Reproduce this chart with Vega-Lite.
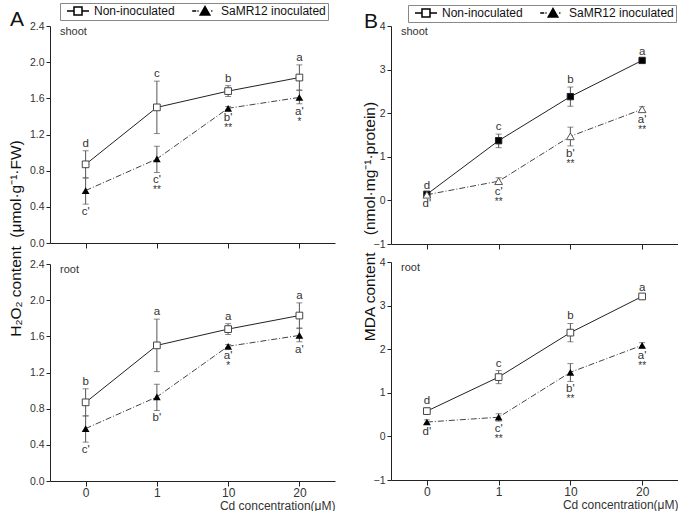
{
  "$schema": "https://vega.github.io/schema/vega-lite/v6.json",
  "padding": {"left": 8, "top": 2, "right": 0, "bottom": 0},
  "datasets": {
    "pts": [
      {"panel": "A_shoot", "cd": "0", "group": "Non-inoculated", "mean": 0.87, "lo": 0.72, "hi": 1.02, "letter": "d", "star": ""},
      {"panel": "A_shoot", "cd": "1", "group": "Non-inoculated", "mean": 1.5, "lo": 1.21, "hi": 1.79, "letter": "c", "star": ""},
      {"panel": "A_shoot", "cd": "10", "group": "Non-inoculated", "mean": 1.68, "lo": 1.62, "hi": 1.74, "letter": "b", "star": ""},
      {"panel": "A_shoot", "cd": "20", "group": "Non-inoculated", "mean": 1.83, "lo": 1.69, "hi": 1.97, "letter": "a", "star": ""},
      {"panel": "A_shoot", "cd": "0", "group": "SaMR12 inoculated", "mean": 0.58, "lo": 0.43, "hi": 0.72, "letter": "c'", "star": ""},
      {"panel": "A_shoot", "cd": "1", "group": "SaMR12 inoculated", "mean": 0.93, "lo": 0.78, "hi": 1.07, "letter": "c'", "star": "**"},
      {"panel": "A_shoot", "cd": "10", "group": "SaMR12 inoculated", "mean": 1.49, "lo": 1.47, "hi": 1.51, "letter": "b'", "star": "**"},
      {"panel": "A_shoot", "cd": "20", "group": "SaMR12 inoculated", "mean": 1.61, "lo": 1.54, "hi": 1.69, "letter": "a'", "star": "*"},
      {"panel": "A_root", "cd": "0", "group": "Non-inoculated", "mean": 0.87, "lo": 0.72, "hi": 1.02, "letter": "b", "star": ""},
      {"panel": "A_root", "cd": "1", "group": "Non-inoculated", "mean": 1.5, "lo": 1.21, "hi": 1.79, "letter": "a", "star": ""},
      {"panel": "A_root", "cd": "10", "group": "Non-inoculated", "mean": 1.68, "lo": 1.62, "hi": 1.74, "letter": "a", "star": ""},
      {"panel": "A_root", "cd": "20", "group": "Non-inoculated", "mean": 1.83, "lo": 1.69, "hi": 1.97, "letter": "a", "star": ""},
      {"panel": "A_root", "cd": "0", "group": "SaMR12 inoculated", "mean": 0.58, "lo": 0.43, "hi": 0.72, "letter": "c'", "star": ""},
      {"panel": "A_root", "cd": "1", "group": "SaMR12 inoculated", "mean": 0.93, "lo": 0.78, "hi": 1.07, "letter": "b'", "star": ""},
      {"panel": "A_root", "cd": "10", "group": "SaMR12 inoculated", "mean": 1.49, "lo": 1.47, "hi": 1.51, "letter": "a'", "star": "*"},
      {"panel": "A_root", "cd": "20", "group": "SaMR12 inoculated", "mean": 1.61, "lo": 1.54, "hi": 1.69, "letter": "a'", "star": ""},
      {"panel": "B_shoot", "cd": "0", "group": "Non-inoculated", "mean": 0.14, "lo": 0.11, "hi": 0.17, "letter": "d", "star": ""},
      {"panel": "B_shoot", "cd": "1", "group": "Non-inoculated", "mean": 1.37, "lo": 1.21, "hi": 1.52, "letter": "c", "star": ""},
      {"panel": "B_shoot", "cd": "10", "group": "Non-inoculated", "mean": 2.38, "lo": 2.16, "hi": 2.6, "letter": "b", "star": ""},
      {"panel": "B_shoot", "cd": "20", "group": "Non-inoculated", "mean": 3.21, "lo": 3.17, "hi": 3.25, "letter": "a", "star": ""},
      {"panel": "B_shoot", "cd": "0", "group": "SaMR12 inoculated", "mean": 0.13, "lo": 0.1, "hi": 0.16, "letter": "d'", "star": ""},
      {"panel": "B_shoot", "cd": "1", "group": "SaMR12 inoculated", "mean": 0.44, "lo": 0.37, "hi": 0.52, "letter": "c'", "star": "**"},
      {"panel": "B_shoot", "cd": "10", "group": "SaMR12 inoculated", "mean": 1.47, "lo": 1.25, "hi": 1.68, "letter": "b'", "star": "**"},
      {"panel": "B_shoot", "cd": "20", "group": "SaMR12 inoculated", "mean": 2.09, "lo": 2.03, "hi": 2.15, "letter": "a'", "star": "**"},
      {"panel": "B_root", "cd": "0", "group": "Non-inoculated", "mean": 0.58, "lo": 0.51, "hi": 0.65, "letter": "d", "star": ""},
      {"panel": "B_root", "cd": "1", "group": "Non-inoculated", "mean": 1.36, "lo": 1.21, "hi": 1.51, "letter": "c", "star": ""},
      {"panel": "B_root", "cd": "10", "group": "Non-inoculated", "mean": 2.38, "lo": 2.17, "hi": 2.59, "letter": "b", "star": ""},
      {"panel": "B_root", "cd": "20", "group": "Non-inoculated", "mean": 3.21, "lo": 3.17, "hi": 3.25, "letter": "a", "star": ""},
      {"panel": "B_root", "cd": "0", "group": "SaMR12 inoculated", "mean": 0.33, "lo": 0.28, "hi": 0.38, "letter": "d'", "star": ""},
      {"panel": "B_root", "cd": "1", "group": "SaMR12 inoculated", "mean": 0.44, "lo": 0.35, "hi": 0.52, "letter": "c'", "star": "**"},
      {"panel": "B_root", "cd": "10", "group": "SaMR12 inoculated", "mean": 1.47, "lo": 1.26, "hi": 1.67, "letter": "b'", "star": "**"},
      {"panel": "B_root", "cd": "20", "group": "SaMR12 inoculated", "mean": 2.09, "lo": 2.03, "hi": 2.15, "letter": "a'", "star": "**"}
    ]
  },
  "data": {"name": "pts"},
  "hconcat": [
    {
      "title": {"text": "A", "anchor": "start", "frame": "bounds", "fontSize": 21, "fontWeight": "normal", "font": "Liberation Sans", "color": "#111", "offset": -27, "dx": 2},
      "bounds": "flush",
      "spacing": 21,
      "vconcat": [
        {
          "width": 285, "height": 217,
          "title": {"text": "shoot", "anchor": "start", "frame": "group", "fontSize": 11, "fontWeight": "normal", "color": "#333", "offset": -16, "dx": 10},
          "transform": [{"filter": "datum.panel === 'A_shoot'"}],
          "encoding": {"x": {"field": "cd", "type": "ordinal", "sort": ["0", "1", "10", "20"], "scale": {"type": "point", "padding": 0.5}, "axis": {"labels": false, "title": null, "tickSize": 5}}},
          "layer": [
            {"mark": {"type": "rule", "color": "#555", "strokeWidth": 1}, "encoding": {"y": {"field": "lo", "type": "quantitative", "scale": {"domain": [0, 2.4], "nice": false, "zero": false}, "axis": {"values": [0, 0.4, 0.8, 1.2, 1.6, 2.0, 2.4], "tickCount": 12, "format": ".1f", "labelOverlap": false, "title": "H₂O₂ content\u00a0\u00a0(μmol·g⁻¹·FW)", "titleFontSize": 15.5, "titleX": -30, "titleY": 212, "titleBaseline": "alphabetic", "titleAlign": "center"}}, "y2": {"field": "hi"}}},
            {"mark": {"type": "tick", "color": "#555", "size": 6, "thickness": 1}, "encoding": {"y": {"field": "lo", "type": "quantitative"}}},
            {"mark": {"type": "tick", "color": "#555", "size": 6, "thickness": 1}, "encoding": {"y": {"field": "hi", "type": "quantitative"}}},
            {"transform": [{"filter": "datum.group === 'Non-inoculated'"}], "mark": {"type": "line", "color": "#222", "strokeWidth": 1}, "encoding": {"y": {"field": "mean", "type": "quantitative"}}},
            {"transform": [{"filter": "datum.group === 'SaMR12 inoculated'"}], "mark": {"type": "line", "color": "#444", "strokeWidth": 1, "strokeDash": [6, 2, 1, 2]}, "encoding": {"y": {"field": "mean", "type": "quantitative"}}},
            {"transform": [{"filter": "datum.group === 'Non-inoculated'"}], "mark": {"type": "point", "shape": "square", "filled": true, "fill": "white", "stroke": "#444", "strokeWidth": 1, "size": 45, "opacity": 1}, "encoding": {"y": {"field": "mean", "type": "quantitative"}}},
            {"transform": [{"filter": "datum.group === 'SaMR12 inoculated'"}], "mark": {"type": "point", "shape": "triangle-up", "filled": true, "fill": "black", "size": 60, "opacity": 1}, "encoding": {"y": {"field": "mean", "type": "quantitative"}}},
            {"transform": [{"filter": "datum.group === 'Non-inoculated'"}], "mark": {"type": "text", "dy": -7, "fontSize": 11.5, "color": "#333", "baseline": "middle"}, "encoding": {"y": {"field": "hi", "type": "quantitative"}, "text": {"field": "letter"}}},
            {"transform": [{"filter": "datum.group === 'SaMR12 inoculated'"}], "mark": {"type": "text", "dy": 8, "fontSize": 11.5, "color": "#333", "baseline": "middle"}, "encoding": {"y": {"field": "lo", "type": "quantitative"}, "text": {"field": "letter"}}},
            {"transform": [{"filter": "datum.group === 'SaMR12 inoculated'"}], "mark": {"type": "text", "dy": 18, "fontSize": 10, "color": "#333", "baseline": "middle"}, "encoding": {"y": {"field": "lo", "type": "quantitative"}, "text": {"field": "star"}}},
            {"transform": [{"filter": "false"}], "mark": {"type": "point", "filled": true, "stroke": "black", "strokeWidth": 1, "opacity": 1},
             "encoding": {"y": {"field": "mean", "type": "quantitative"},
               "shape": {"field": "group", "type": "nominal", "scale": {"domain": ["Non-inoculated", "SaMR12 inoculated"], "range": ["M-2.75,0L-1,0M1,0L2.75,0M-1,-1L1,-1L1,1L-1,1Z", "M-3.2,0L-2.2,0M-1.9,0L-1.6,0M0,-1.1L1.2,1L-1.2,1ZM1.55,0L1.85,0"]},
                 "legend": {"orient": "none", "legendX": 10, "legendY": -23, "direction": "horizontal", "title": null, "strokeColor": "#888", "padding": 2, "labelFontSize": 12, "labelFont": "Liberation Sans", "labelColor": "#111", "symbolSize": 64, "symbolOffset": 10, "labelOffset": 10, "columnPadding": 14, "cornerRadius": 0, "encode": {"symbols": {"update": {"stroke": {"value": "black"}, "strokeWidth": {"value": 1}, "opacity": {"value": 1}}}}}},
               "fill": {"field": "group", "type": "nominal", "scale": {"domain": ["Non-inoculated", "SaMR12 inoculated"], "range": ["white", "black"]},
                 "legend": {"orient": "none", "legendX": 10, "legendY": -23, "direction": "horizontal", "title": null, "strokeColor": "#888", "padding": 2, "labelFontSize": 12, "labelFont": "Liberation Sans", "labelColor": "#111", "symbolSize": 64, "symbolOffset": 10, "labelOffset": 10, "columnPadding": 14, "cornerRadius": 0, "encode": {"symbols": {"update": {"stroke": {"value": "black"}, "strokeWidth": {"value": 1}, "opacity": {"value": 1}}}}}}}}
          ]
        },
        {
          "width": 285, "height": 217,
          "title": {"text": "root", "anchor": "start", "frame": "group", "fontSize": 11, "fontWeight": "normal", "color": "#333", "offset": -16, "dx": 10},
          "transform": [{"filter": "datum.panel === 'A_root'"}],
          "encoding": {"x": {"field": "cd", "type": "ordinal", "sort": ["0", "1", "10", "20"], "scale": {"type": "point", "padding": 0.5}, "axis": {"labelAngle": 0, "labelFontSize": 12, "tickSize": 5, "labelPadding": 1, "title": "Cd concentration(μM)", "titleAnchor": "end", "titleFontSize": 12, "titleColor": "#333", "titlePadding": 2}}},
          "layer": [
            {"mark": {"type": "rule", "color": "#555", "strokeWidth": 1}, "encoding": {"y": {"field": "lo", "type": "quantitative", "scale": {"domain": [0, 2.4], "nice": false, "zero": false}, "axis": {"values": [0, 0.4, 0.8, 1.2, 1.6, 2.0, 2.4], "tickCount": 12, "format": ".1f", "labelOverlap": false, "title": null}}, "y2": {"field": "hi"}}},
            {"mark": {"type": "tick", "color": "#555", "size": 6, "thickness": 1}, "encoding": {"y": {"field": "lo", "type": "quantitative"}}},
            {"mark": {"type": "tick", "color": "#555", "size": 6, "thickness": 1}, "encoding": {"y": {"field": "hi", "type": "quantitative"}}},
            {"transform": [{"filter": "datum.group === 'Non-inoculated'"}], "mark": {"type": "line", "color": "#222", "strokeWidth": 1}, "encoding": {"y": {"field": "mean", "type": "quantitative"}}},
            {"transform": [{"filter": "datum.group === 'SaMR12 inoculated'"}], "mark": {"type": "line", "color": "#444", "strokeWidth": 1, "strokeDash": [6, 2, 1, 2]}, "encoding": {"y": {"field": "mean", "type": "quantitative"}}},
            {"transform": [{"filter": "datum.group === 'Non-inoculated'"}], "mark": {"type": "point", "shape": "square", "filled": true, "fill": "white", "stroke": "#444", "strokeWidth": 1, "size": 45, "opacity": 1}, "encoding": {"y": {"field": "mean", "type": "quantitative"}}},
            {"transform": [{"filter": "datum.group === 'SaMR12 inoculated'"}], "mark": {"type": "point", "shape": "triangle-up", "filled": true, "fill": "black", "size": 60, "opacity": 1}, "encoding": {"y": {"field": "mean", "type": "quantitative"}}},
            {"transform": [{"filter": "datum.group === 'Non-inoculated'"}], "mark": {"type": "text", "dy": -7, "fontSize": 11.5, "color": "#333", "baseline": "middle"}, "encoding": {"y": {"field": "hi", "type": "quantitative"}, "text": {"field": "letter"}}},
            {"transform": [{"filter": "datum.group === 'SaMR12 inoculated'"}], "mark": {"type": "text", "dy": 8, "fontSize": 11.5, "color": "#333", "baseline": "middle"}, "encoding": {"y": {"field": "lo", "type": "quantitative"}, "text": {"field": "letter"}}},
            {"transform": [{"filter": "datum.group === 'SaMR12 inoculated'"}], "mark": {"type": "text", "dy": 18, "fontSize": 10, "color": "#333", "baseline": "middle"}, "encoding": {"y": {"field": "lo", "type": "quantitative"}, "text": {"field": "star"}}}
          ]
        }
      ]
    },
    {
      "title": {"text": "B", "anchor": "start", "frame": "bounds", "fontSize": 21, "fontWeight": "normal", "font": "Liberation Sans", "color": "#111", "offset": -27, "dx": 2},
      "bounds": "flush",
      "spacing": 18,
      "vconcat": [
        {
          "width": 287, "height": 218,
          "title": {"text": "shoot", "anchor": "start", "frame": "group", "fontSize": 11, "fontWeight": "normal", "color": "#333", "offset": -16, "dx": 10},
          "transform": [{"filter": "datum.panel === 'B_shoot'"}],
          "encoding": {"x": {"field": "cd", "type": "ordinal", "sort": ["0", "1", "10", "20"], "scale": {"type": "point", "padding": 0.5}, "axis": {"labels": false, "title": null, "tickSize": 5}}},
          "layer": [
            {"mark": {"type": "rule", "color": "#555", "strokeWidth": 1}, "encoding": {"y": {"field": "lo", "type": "quantitative", "scale": {"domain": [-1, 4], "nice": false, "zero": false}, "axis": {"values": [-1, 0, 1, 2, 3, 4], "tickCount": 12, "format": "d", "labelOverlap": false, "title": "MDA content\u00a0\u00a0\u00a0\u00a0(nmol·mg⁻¹·protein)", "titleFontSize": 15.5, "titleX": -17, "titleY": 195, "titleBaseline": "alphabetic", "titleAlign": "center"}}, "y2": {"field": "hi"}}},
            {"mark": {"type": "tick", "color": "#555", "size": 6, "thickness": 1}, "encoding": {"y": {"field": "lo", "type": "quantitative"}}},
            {"mark": {"type": "tick", "color": "#555", "size": 6, "thickness": 1}, "encoding": {"y": {"field": "hi", "type": "quantitative"}}},
            {"transform": [{"filter": "datum.group === 'Non-inoculated'"}], "mark": {"type": "line", "color": "#222", "strokeWidth": 1}, "encoding": {"y": {"field": "mean", "type": "quantitative"}}},
            {"transform": [{"filter": "datum.group === 'SaMR12 inoculated'"}], "mark": {"type": "line", "color": "#444", "strokeWidth": 1, "strokeDash": [6, 2, 1, 2]}, "encoding": {"y": {"field": "mean", "type": "quantitative"}}},
            {"transform": [{"filter": "datum.group === 'Non-inoculated'"}], "mark": {"type": "point", "shape": "square", "filled": true, "fill": "black", "stroke": "#222", "strokeWidth": 1, "size": 40, "opacity": 1}, "encoding": {"y": {"field": "mean", "type": "quantitative"}}},
            {"transform": [{"filter": "datum.group === 'SaMR12 inoculated'"}], "mark": {"type": "point", "shape": "triangle-up", "filled": true, "fill": "white", "stroke": "#555", "strokeWidth": 1, "size": 60, "opacity": 1}, "encoding": {"y": {"field": "mean", "type": "quantitative"}}},
            {"transform": [{"filter": "datum.group === 'Non-inoculated'"}], "mark": {"type": "text", "dy": -7, "fontSize": 11.5, "color": "#333", "baseline": "middle"}, "encoding": {"y": {"field": "hi", "type": "quantitative"}, "text": {"field": "letter"}}},
            {"transform": [{"filter": "datum.group === 'SaMR12 inoculated'"}], "mark": {"type": "text", "dy": 8, "fontSize": 11.5, "color": "#333", "baseline": "middle"}, "encoding": {"y": {"field": "lo", "type": "quantitative"}, "text": {"field": "letter"}}},
            {"transform": [{"filter": "datum.group === 'SaMR12 inoculated'"}], "mark": {"type": "text", "dy": 18, "fontSize": 10, "color": "#333", "baseline": "middle"}, "encoding": {"y": {"field": "lo", "type": "quantitative"}, "text": {"field": "star"}}},
            {"transform": [{"filter": "false"}], "mark": {"type": "point", "filled": true, "stroke": "black", "strokeWidth": 1, "opacity": 1},
             "encoding": {"y": {"field": "mean", "type": "quantitative"},
               "shape": {"field": "group", "type": "nominal", "scale": {"domain": ["Non-inoculated", "SaMR12 inoculated"], "range": ["M-2.75,0L-1,0M1,0L2.75,0M-1,-1L1,-1L1,1L-1,1Z", "M-3.2,0L-2.2,0M-1.9,0L-1.6,0M0,-1.1L1.2,1L-1.2,1ZM1.55,0L1.85,0"]},
                 "legend": {"orient": "none", "legendX": 17, "legendY": -21, "direction": "horizontal", "title": null, "strokeColor": "#888", "padding": 2, "labelFontSize": 12, "labelFont": "Liberation Sans", "labelColor": "#111", "symbolSize": 64, "symbolOffset": 10, "labelOffset": 10, "columnPadding": 14, "cornerRadius": 0, "encode": {"symbols": {"update": {"stroke": {"value": "black"}, "strokeWidth": {"value": 1}, "opacity": {"value": 1}}}}}},
               "fill": {"field": "group", "type": "nominal", "scale": {"domain": ["Non-inoculated", "SaMR12 inoculated"], "range": ["white", "black"]},
                 "legend": {"orient": "none", "legendX": 17, "legendY": -21, "direction": "horizontal", "title": null, "strokeColor": "#888", "padding": 2, "labelFontSize": 12, "labelFont": "Liberation Sans", "labelColor": "#111", "symbolSize": 64, "symbolOffset": 10, "labelOffset": 10, "columnPadding": 14, "cornerRadius": 0, "encode": {"symbols": {"update": {"stroke": {"value": "black"}, "strokeWidth": {"value": 1}, "opacity": {"value": 1}}}}}}}}
          ]
        },
        {
          "width": 287, "height": 218,
          "title": {"text": "root", "anchor": "start", "frame": "group", "fontSize": 11, "fontWeight": "normal", "color": "#333", "offset": -16, "dx": 10},
          "transform": [{"filter": "datum.panel === 'B_root'"}],
          "encoding": {"x": {"field": "cd", "type": "ordinal", "sort": ["0", "1", "10", "20"], "scale": {"type": "point", "padding": 0.5}, "axis": {"labelAngle": 0, "labelFontSize": 12, "tickSize": 5, "labelPadding": 1, "title": "Cd concentration(μM)", "titleAnchor": "end", "titleFontSize": 12, "titleColor": "#333", "titlePadding": 2}}},
          "layer": [
            {"mark": {"type": "rule", "color": "#555", "strokeWidth": 1}, "encoding": {"y": {"field": "lo", "type": "quantitative", "scale": {"domain": [-1, 4], "nice": false, "zero": false}, "axis": {"values": [-1, 0, 1, 2, 3, 4], "tickCount": 12, "format": "d", "labelOverlap": false, "title": null}}, "y2": {"field": "hi"}}},
            {"mark": {"type": "tick", "color": "#555", "size": 6, "thickness": 1}, "encoding": {"y": {"field": "lo", "type": "quantitative"}}},
            {"mark": {"type": "tick", "color": "#555", "size": 6, "thickness": 1}, "encoding": {"y": {"field": "hi", "type": "quantitative"}}},
            {"transform": [{"filter": "datum.group === 'Non-inoculated'"}], "mark": {"type": "line", "color": "#222", "strokeWidth": 1}, "encoding": {"y": {"field": "mean", "type": "quantitative"}}},
            {"transform": [{"filter": "datum.group === 'SaMR12 inoculated'"}], "mark": {"type": "line", "color": "#444", "strokeWidth": 1, "strokeDash": [6, 2, 1, 2]}, "encoding": {"y": {"field": "mean", "type": "quantitative"}}},
            {"transform": [{"filter": "datum.group === 'Non-inoculated'"}], "mark": {"type": "point", "shape": "square", "filled": true, "fill": "white", "stroke": "#444", "strokeWidth": 1, "size": 45, "opacity": 1}, "encoding": {"y": {"field": "mean", "type": "quantitative"}}},
            {"transform": [{"filter": "datum.group === 'SaMR12 inoculated'"}], "mark": {"type": "point", "shape": "triangle-up", "filled": true, "fill": "black", "size": 60, "opacity": 1}, "encoding": {"y": {"field": "mean", "type": "quantitative"}}},
            {"transform": [{"filter": "datum.group === 'Non-inoculated'"}], "mark": {"type": "text", "dy": -7, "fontSize": 11.5, "color": "#333", "baseline": "middle"}, "encoding": {"y": {"field": "hi", "type": "quantitative"}, "text": {"field": "letter"}}},
            {"transform": [{"filter": "datum.group === 'SaMR12 inoculated'"}], "mark": {"type": "text", "dy": 8, "fontSize": 11.5, "color": "#333", "baseline": "middle"}, "encoding": {"y": {"field": "lo", "type": "quantitative"}, "text": {"field": "letter"}}},
            {"transform": [{"filter": "datum.group === 'SaMR12 inoculated'"}], "mark": {"type": "text", "dy": 18, "fontSize": 10, "color": "#333", "baseline": "middle"}, "encoding": {"y": {"field": "lo", "type": "quantitative"}, "text": {"field": "star"}}}
          ]
        }
      ]
    }
  ],
  "spacing": 27,
  "resolve": {"scale": {"shape": "independent", "fill": "independent"}},
  "config": {
    "view": {"stroke": null},
    "font": "Liberation Sans",
    "axis": {"domainColor": "#222", "tickColor": "#222", "labelColor": "#333", "labelFontSize": 10.5, "labelFont": "Liberation Sans", "titleFont": "Liberation Sans", "titleFontWeight": "normal", "titleColor": "#111", "grid": false, "tickSize": 4, "labelPadding": 2, "labelOverlap": false}
  }
}
